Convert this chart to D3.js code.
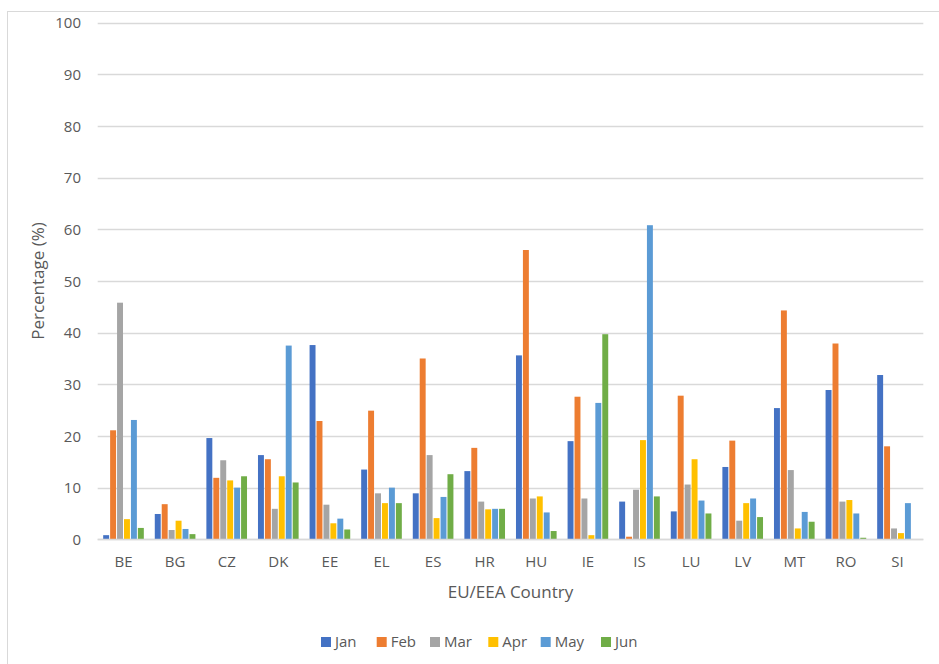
<!DOCTYPE html>
<html>
<head>
<meta charset="utf-8">
<script src="https://cdn.jsdelivr.net/npm/d3@7"></script>
<style>
  html, body { margin: 0; padding: 0; background: #fff; }
  svg { display: block; font-family: "Open Sans", "Liberation Sans", sans-serif; }
</style>
</head>
<body>
<svg id="chart" width="939" height="664"></svg>
<script>
const countries = ["BE","BG","CZ","DK","EE","EL","ES","HR","HU","IE","IS","LU","LV","MT","RO","SI"];
const months = ["Jan","Feb","Mar","Apr","May","Jun"];
const jan = [0.8, 4.9, 19.6, 16.3, 37.6, 13.5, 8.9, 13.2, 35.6, 19.0, 7.3, 5.4, 14.0, 25.4, 28.9, 31.8];
const feb = [21.1, 6.8, 11.9, 15.5, 22.9, 24.9, 35.0, 17.7, 56.0, 27.6, 0.5, 27.8, 19.1, 44.3, 37.9, 18.0];
const mar = [45.8, 1.8, 15.3, 5.9, 6.7, 8.9, 16.3, 7.3, 7.9, 7.9, 9.6, 10.6, 3.6, 13.4, 7.3, 2.1];
const apr = [3.9, 3.6, 11.4, 12.2, 3.1, 7.0, 4.1, 5.8, 8.3, 0.8, 19.2, 15.5, 7.0, 2.1, 7.6, 1.2];
const may = [23.1, 2.0, 10.0, 37.5, 4.0, 10.0, 8.2, 5.9, 5.2, 26.4, 60.8, 7.5, 7.9, 5.3, 5.0, 7.0];
const jun = [2.2, 1.0, 12.2, 11.0, 1.9, 7.0, 12.6, 5.9, 1.6, 39.7, 8.3, 5.0, 4.3, 3.4, 0.3, 0];
const yTicks = [0,10,20,30,40,50,60,70,80,90,100];
const colors = ["#4472C4","#ED7D31","#A5A5A5","#FFC000","#5B9BD5","#70AD47"];
const xTitle = "EU/EEA Country";
const yTitle = "Percentage (%)";

const seriesValues = [jan, feb, mar, apr, may, jun];
const rows = countries.map((c, i) => ({country: c, values: months.map((m, j) => ({month: m, value: seriesValues[j][i], idx: j}))}));

const svg = d3.select("#chart");
const textColor = "#595959";
const gridColor = "#D9D9D9";

// chart frame
svg.append("rect").attr("x", 7.5).attr("y", 11.5).attr("width", 1000).attr("height", 1000)
  .attr("fill", "none").attr("stroke", "#D9D9D9").attr("stroke-width", 1);

const plot = {left: 97.7, right: 923.3, top: 22.7, bottom: 539.3};

const x0 = d3.scaleBand().domain(countries).range([plot.left, plot.right]).paddingInner(0).paddingOuter(0);
const bw = x0.bandwidth();
const gap = bw * 0.193;
const x1 = d3.scaleBand().domain(months).range([gap/2, bw - gap/2]).padding(0);
const y = d3.scaleLinear().domain([0, 100]).range([plot.bottom, plot.top]);

// gridlines
svg.append("g").selectAll("line").data(yTicks).join("line")
  .attr("x1", plot.left).attr("x2", plot.right)
  .attr("y1", d => Math.round(y(d)) + 0.5).attr("y2", d => Math.round(y(d)) + 0.5)
  .attr("stroke", gridColor).attr("stroke-width", 1.3);

// y axis labels
const yAxis = d3.axisLeft(y).tickValues(yTicks).tickSize(0).tickPadding(0);
const gy = svg.append("g").attr("transform", `translate(81,0)`).call(yAxis);
gy.select(".domain").remove();
gy.selectAll("text").attr("fill", textColor).attr("font-size", 15).attr("font-family", "Open Sans").attr("dy", "0.35em");

// bars
const groups = svg.append("g").selectAll("g").data(rows).join("g")
  .attr("transform", d => `translate(${x0(d.country)},0)`);
groups.selectAll("rect").data(d => d.values).join("rect")
  .attr("x", d => x1(d.month) + 0.5)
  .attr("width", x1.bandwidth() - 1)
  .attr("y", d => y(d.value))
  .attr("height", d => y(0) - y(d.value))
  .attr("fill", d => colors[d.idx]);

// x axis line
svg.append("line").attr("x1", plot.left).attr("x2", plot.right)
  .attr("y1", Math.round(y(0)) + 0.5).attr("y2", Math.round(y(0)) + 0.5)
  .attr("stroke", gridColor).attr("stroke-width", 1.3);

// x axis labels
const xAxis = d3.axisBottom(x0).tickSize(0).tickPadding(0);
const gx = svg.append("g").attr("transform", `translate(0,557)`).call(xAxis);
gx.select(".domain").remove();
gx.selectAll("text").attr("fill", textColor).attr("font-size", 15).attr("font-family", "Open Sans").attr("dy", "0.35em").attr("y", 5);

// axis titles
svg.append("text").attr("x", (plot.left + plot.right) / 2).attr("y", 592)
  .attr("text-anchor", "middle").attr("dy", "0.35em")
  .attr("fill", textColor).attr("font-size", 17).text(xTitle);
svg.append("text").attr("transform", `translate(38,${(plot.top + plot.bottom) / 2}) rotate(-90)`)
  .attr("text-anchor", "middle").attr("dy", "0.35em")
  .attr("fill", textColor).attr("font-size", 17).text(yTitle);

// legend
const legendX = [321, 376.7, 430, 488.3, 540.7, 601];
const leg = svg.append("g").selectAll("g").data(months).join("g")
  .attr("transform", (d, i) => `translate(${legendX[i]},642)`);
leg.append("rect").attr("x", 0).attr("y", -5).attr("width", 10).attr("height", 10)
  .attr("fill", (d, i) => colors[i]);
leg.append("text").attr("x", 14).attr("dy", "0.35em").attr("fill", textColor)
  .attr("font-size", 15).text(d => d);
</script>
</body>
</html>
